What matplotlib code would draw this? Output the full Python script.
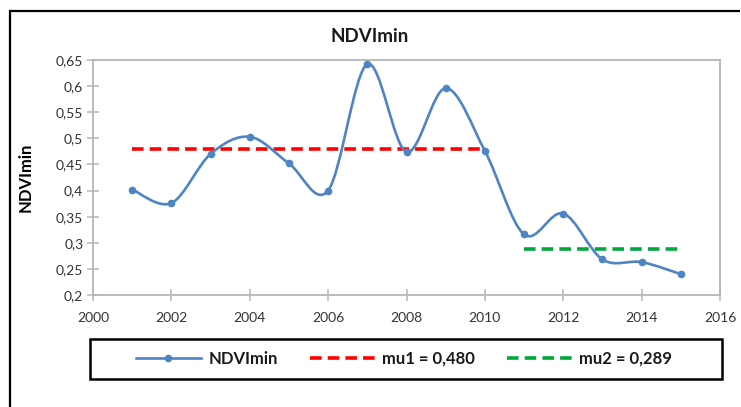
import numpy as np
import matplotlib
matplotlib.use("Agg")
import matplotlib.pyplot as plt
from matplotlib.path import Path
from matplotlib.patches import PathPatch, Rectangle
from matplotlib.lines import Line2D

plt.rcParams['font.family'] = ['Lato', 'DejaVu Sans']

# ---- data ----
years = [2001, 2002, 2003, 2004, 2005, 2006, 2007, 2008, 2009, 2010,
         2011, 2012, 2013, 2014, 2015]
ndvimin = [0.402, 0.376, 0.470, 0.503, 0.452, 0.400, 0.642, 0.474, 0.596, 0.476,
           0.316, 0.356, 0.268, 0.263, 0.240]
mu1_years = [2001, 2010]
mu1_value = 0.480
mu2_years = [2011, 2015]
mu2_value = 0.289
title = "NDVImin"
ylabel = "NDVImin"
x_ticks = [2000, 2002, 2004, 2006, 2008, 2010, 2012, 2014, 2016]
y_ticks = [0.2, 0.25, 0.3, 0.35, 0.4, 0.45, 0.5, 0.55, 0.6, 0.65]
y_ticklabels = ["0,2", "0,25", "0,3", "0,35", "0,4", "0,45", "0,5", "0,55", "0,6", "0,65"]
legend_labels = ["NDVImin", "mu1 = 0,480", "mu2 = 0,289"]

BLUE = "#4F84C4"
RED = "#FF0000"
GREEN = "#00A83A"
GRAY = "#B5B5B5"
TXT = "#333333"

fig = plt.figure(figsize=(7.41, 4.07), dpi=100)
W, H = 741, 407
ax = fig.add_axes([93 / W, 1 - 295 / H, (720 - 93) / W, (295 - 60) / H])

# smoothed (Excel-like) curve through the data with Bezier segments
x = np.array(years, dtype=float)
y = np.array(ndvimin, dtype=float)
verts = [(x[0], y[0])]
codes = [Path.MOVETO]
n = len(x)
for i in range(n - 1):
    p0 = np.array([x[max(i - 1, 0)], y[max(i - 1, 0)]])
    p1 = np.array([x[i], y[i]])
    p2 = np.array([x[i + 1], y[i + 1]])
    p3 = np.array([x[min(i + 2, n - 1)], y[min(i + 2, n - 1)]])
    c1 = p1 + (p2 - p0) / 6.0
    c2 = p2 - (p3 - p1) / 6.0
    verts += [tuple(c1), tuple(c2), tuple(p2)]
    codes += [Path.CURVE4] * 3
ax.add_patch(PathPatch(Path(verts, codes), facecolor='none', edgecolor=BLUE,
                       lw=1.9, zorder=3))
ax.plot(years, ndvimin, ls='none', marker='o', ms=4.5, color=BLUE, zorder=4)

ax.plot(mu1_years, [mu1_value] * 2, color=RED, lw=2.6, ls=(0, (3.2, 1.7)), zorder=2)
ax.plot(mu2_years, [mu2_value] * 2, color=GREEN, lw=2.6, ls=(0, (3.2, 1.7)), zorder=2)

ax.set_xlim(2000, 2016)
ax.set_ylim(0.2, 0.65)
ax.set_xticks(x_ticks)
ax.set_xticklabels([str(t) for t in x_ticks])
ax.set_yticks(y_ticks)
ax.set_yticklabels(y_ticklabels)
for s in ax.spines.values():
    s.set_color(GRAY)
    s.set_linewidth(1.3)
ax.tick_params(axis='both', direction='inout', length=8, width=1.1, color=GRAY,
               labelsize=10, labelcolor=TXT)
ax.tick_params(axis='x', pad=8)
ax.tick_params(axis='y', pad=3)

ax.set_ylabel(ylabel, fontsize=12, fontweight='bold', color='black', labelpad=6)
ax.yaxis.set_label_coords(-0.095, 0.5)
fig.text(370 / W, 1 - 36 / H, title, fontsize=13.5, fontweight='bold',
         ha='center', va='center', color='#1a1a1a')

# outer chart frame (cropped at right and bottom): top and left edges only
fx, fy = 10 / W, 1 - 11 / H
fig.add_artist(Line2D([fx, 739.5 / W], [fy, fy], transform=fig.transFigure,
                      color='black', lw=1.6, solid_capstyle='butt', zorder=10))
fig.add_artist(Line2D([fx, fx], [0.0, fy], transform=fig.transFigure,
                      color='black', lw=1.6, solid_capstyle='projecting', zorder=10))

# legend box
fig.patches.append(Rectangle((90 / W, 1 - 379 / H), (722 - 90) / W, 40 / H,
                             transform=fig.transFigure, facecolor='white',
                             edgecolor='black', lw=1.8, zorder=5))
handles = [Line2D([], [], color=BLUE, lw=1.9, marker='o', ms=4.5),
           Line2D([], [], color=RED, lw=2.6, ls=(0, (3.2, 1.7))),
           Line2D([], [], color=GREEN, lw=2.6, ls=(0, (3.2, 1.7)))]
leg = fig.legend(handles, legend_labels, loc='center', bbox_to_anchor=(404 / W, 1 - 359 / H),
                 ncol=3, frameon=False, fontsize=12, handlelength=3.9, handletextpad=0.45,
                 columnspacing=1.9, numpoints=1)
for t in leg.get_texts():
    t.set_fontweight('bold')
    t.set_color('#1a1a1a')
leg.set_zorder(11)

fig.savefig("out.png", dpi=100)
